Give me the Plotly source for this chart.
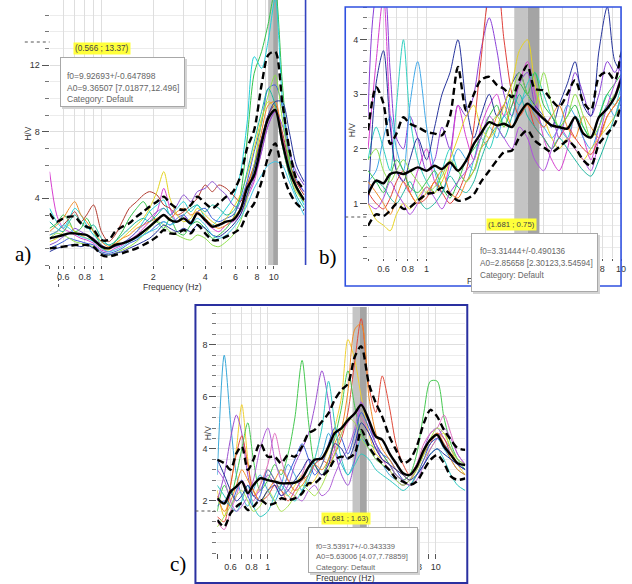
import math
import plotly.graph_objects as go

W, H = 632, 584
def px(x): return x / W
def py(y): return 1 - y / H

FREQ = [0.5, 0.55, 0.6, 0.65, 0.7, 0.76, 0.82, 0.9, 1.0, 1.1, 1.2, 1.32, 1.45, 1.6, 1.75, 1.9,
        2.1, 2.3, 2.5, 2.75, 3.0, 3.3, 3.6, 4.0, 4.4, 4.8, 5.3, 5.8, 6.4, 7.0, 7.7, 8.5, 9.3,
        10.2, 11.2, 12.3, 13.5, 15.0]

# ---------------- panel a ----------------
A_MEAN = [1.6,1.7,1.8,1.9,1.9,1.85,1.8,1.5,1.1,1.0,1.2,1.3,1.45,1.7,2.0,2.3,2.7,3.0,2.7,2.6,
          2.8,2.5,3.1,2.7,2.3,2.4,2.6,2.7,3.3,4.6,5.4,7.3,8.8,9.3,7.4,5.7,4.7,3.9]
A_UP = [3.1,2.6,2.8,2.9,2.9,2.5,2.3,2.1,1.5,1.5,2.0,2.3,2.5,2.9,3.2,3.5,3.8,4.1,3.7,3.4,
        3.3,3.6,4.1,3.7,3.4,3.7,4.1,4.4,5.3,7.0,8.1,10.8,12.6,12.8,9.8,7.0,5.2,4.5]
A_LO = [1.0,1.05,1.1,1.15,1.2,1.2,1.2,1.1,0.6,0.5,0.6,0.7,0.85,1.0,1.2,1.4,1.7,2.1,1.9,1.9,
        2.1,1.9,2.4,1.9,1.5,1.5,1.7,1.9,2.2,3.1,3.7,5.0,6.5,7.3,5.6,4.4,3.7,3.3]
A_CURVES = [
    [5.6,3.0,2.2,2.0,1.8,1.6,1.5,1.3,0.9,0.8,1.0,1.2,1.5,1.8,2.2,2.6,3.2,4.6,3.4,2.6,3.0,2.4,3.2,2.6,2.2,2.0,2.4,2.6,3.0,4.0,5.0,6.8,8.4,9.2,7.8,6.0,5.0,4.4],
    [2.2,2.5,3.0,2.6,2.0,2.2,2.8,2.0,1.2,1.0,1.4,2.0,2.8,3.4,3.8,3.2,2.6,2.2,2.8,2.0,1.8,2.4,2.6,2.2,1.6,1.8,2.2,2.8,4.2,7.5,11.5,12.8,14.5,16.5,11.0,6.5,4.8,4.0],
    [3.4,2.6,2.2,2.8,3.4,3.0,2.4,1.8,1.4,1.2,1.1,1.3,1.6,2.0,2.6,3.2,3.6,3.9,3.0,3.4,3.8,3.2,3.6,2.8,2.4,2.8,3.4,4.0,5.5,8.5,12.5,11.8,13.5,16.0,10.0,6.0,4.6,3.6],
    [1.0,1.2,1.4,1.6,1.5,1.4,1.3,1.2,0.8,0.7,0.8,1.0,1.3,1.5,1.8,2.0,2.4,2.6,2.4,2.8,3.0,2.6,3.2,3.4,2.8,2.6,2.8,3.0,3.8,5.0,6.8,8.5,10.6,10.8,9.5,7.0,5.2,4.4],
    [1.8,2.0,2.4,2.8,3.2,2.6,3.0,3.6,2.0,1.4,1.8,2.6,3.4,3.8,4.2,4.4,4.2,3.6,3.4,3.0,3.2,3.6,4.0,4.8,4.4,4.8,4.6,4.2,3.8,4.8,6.0,7.6,9.0,9.6,8.0,6.2,5.0,4.2],
    [1.4,1.6,2.0,2.4,2.0,1.8,1.6,1.5,1.0,0.9,1.2,1.6,2.0,2.4,2.8,3.4,4.4,5.6,4.0,3.0,2.6,2.8,3.4,3.0,2.6,2.4,2.8,3.4,4.2,5.4,7.0,8.8,9.8,9.4,7.2,5.4,4.4,3.8],
    [2.0,2.4,2.8,3.4,3.8,3.0,2.6,2.0,1.4,1.1,1.3,1.6,1.8,2.2,2.4,2.6,2.8,3.0,2.8,3.2,3.4,3.0,3.2,2.8,2.4,2.2,2.4,2.8,3.4,4.6,6.0,8.0,9.6,9.8,7.6,5.6,4.6,4.0],
    [1.2,1.4,1.7,1.9,2.2,2.0,1.8,1.6,1.2,1.0,1.1,1.3,1.6,2.0,2.4,2.8,3.2,3.4,3.0,3.6,4.2,3.8,4.4,4.6,5.0,4.6,4.2,3.6,3.4,4.2,5.2,6.8,8.4,9.2,8.4,6.8,5.6,4.8],
    [1.6,1.9,1.8,1.6,1.4,1.3,1.2,1.1,0.7,0.6,0.7,0.9,1.1,1.4,1.8,2.2,2.6,2.4,2.0,1.8,1.6,1.5,1.8,1.6,1.2,1.1,1.4,1.8,2.6,4.0,6.0,8.6,10.2,11.4,8.8,6.2,4.6,3.8],
    [2.6,2.2,2.0,2.6,3.0,2.6,2.2,2.4,1.6,1.2,1.4,1.8,2.2,2.6,2.8,2.6,3.0,3.4,3.0,2.6,3.0,3.4,3.6,3.2,3.6,3.4,3.0,3.2,4.0,5.6,7.4,9.2,10.6,9.6,7.2,5.4,4.2,3.4],
    [0.8,1.0,1.1,1.2,1.2,1.1,1.2,1.0,0.7,0.6,0.7,0.8,1.0,1.2,1.4,1.6,2.0,2.4,2.2,2.0,2.2,2.0,2.4,2.2,1.8,1.7,2.0,2.4,3.0,4.2,5.8,7.6,9.0,9.8,9.8,8.0,6.0,5.0],
    [1.8,2.0,2.4,2.2,1.9,1.7,1.6,1.4,1.0,0.8,0.9,1.1,1.4,1.6,1.8,2.0,2.2,2.6,2.4,2.6,2.8,2.4,2.8,2.4,1.8,1.6,1.8,2.2,2.8,3.6,4.6,5.4,6.0,6.2,6.0,5.0,4.0,3.0],
]
A_COLORS = ['#d63fd0','#33c24a','#1fd0d8','#3b5fd8','#b03a2e','#e3d420',
            '#f08a24','#8a4fd0','#8ee04a','#20b7a0','#25339c','#40c8e8']

# ---------------- panel b ----------------
B_MEAN = [1.17,1.42,1.37,1.54,1.57,1.54,1.59,1.66,1.6,1.69,1.63,1.75,1.6,1.79,2.09,2.28,2.49,2.43,2.46,2.4,
          2.64,2.83,2.71,2.55,2.43,2.4,2.37,2.58,2.28,2.21,2.58,2.74,2.95,3.32,3.4,3.5,3.6,3.7]
B_UP = [2.34,3.13,2.83,2.09,2.28,2.58,2.46,2.4,2.31,2.28,2.25,2.6,3.5,2.7,3.0,3.26,3.32,3.17,3.1,2.95,
        3.26,3.53,3.1,3.07,2.89,2.77,3.01,3.26,2.86,2.71,3.32,3.41,3.26,3.81,3.9,4.0,4.1,4.2]
B_LO = [0.59,0.8,0.77,0.87,0.99,0.9,0.93,1.05,1.17,1.2,1.29,1.17,1.05,1.08,1.17,1.39,1.6,1.79,1.94,1.97,
        2.21,2.34,2.15,2.03,1.94,2.03,2.15,2.03,1.79,1.69,2.09,2.28,2.46,2.83,2.9,3.0,3.1,3.2]
B_CURVES = [
    [2.6,4.8,5.0,3.4,2.2,2.0,2.6,2.2,1.6,1.8,2.4,2.0,2.8,2.6,3.0,3.8,4.4,3.8,3.0,2.6,3.2,3.4,2.8,2.4,2.6,2.2,2.8,3.4,3.0,2.6,3.0,3.6,3.4,3.8,4.0,4.1,4.2,4.3],
    [2.0,3.6,4.8,2.6,1.6,1.4,1.2,1.6,2.0,1.4,1.2,1.8,2.8,2.2,1.8,2.4,2.8,3.0,2.6,2.8,3.2,3.6,3.0,2.2,1.8,1.6,2.0,2.6,2.2,1.8,2.4,2.8,3.0,3.4,3.5,3.6,3.7,3.8],
    [1.8,2.4,2.0,1.6,2.8,4.0,2.6,1.8,1.4,1.2,1.6,2.0,1.6,1.4,1.8,2.2,2.0,2.4,2.6,3.0,2.8,3.2,3.4,3.0,2.6,2.4,2.2,2.6,2.4,2.2,2.6,3.0,2.8,3.2,3.3,3.4,3.5,3.6],
    [1.4,1.6,2.2,2.6,2.0,1.6,2.8,3.6,2.4,1.6,1.2,1.6,2.0,1.8,1.6,2.0,2.4,2.2,2.6,2.4,2.8,3.0,2.6,2.4,2.2,2.4,2.8,2.6,2.2,2.0,2.4,2.8,2.6,3.0,3.1,3.2,3.3,3.4],
    [1.0,3.2,3.8,2.4,1.6,1.4,1.8,2.2,1.8,2.4,3.0,3.4,4.0,2.8,2.2,2.6,3.0,2.6,2.8,3.2,3.4,3.0,2.8,2.6,2.4,2.8,3.2,3.6,2.8,2.6,3.8,4.6,3.6,3.4,3.5,3.6,3.7,3.8],
    [1.2,1.0,0.9,1.1,1.4,1.6,1.2,1.0,1.1,1.4,1.2,1.0,1.2,1.6,2.4,3.6,4.8,5.0,4.0,3.0,2.6,2.8,2.4,2.2,2.0,2.2,2.4,2.2,2.0,1.9,2.2,2.6,2.8,3.0,3.1,3.2,3.3,3.4],
    [1.0,0.7,0.6,0.5,0.8,1.0,0.9,1.1,1.3,1.2,1.4,1.8,2.2,2.6,2.8,2.4,2.2,2.4,2.8,3.2,3.8,4.0,3.2,2.6,2.2,2.0,2.2,2.0,1.8,2.0,2.2,2.4,2.6,2.8,2.9,3.0,3.1,3.2],
    [1.6,1.4,1.2,1.5,1.8,1.6,1.3,1.2,1.4,1.6,1.3,1.1,1.4,1.8,2.0,2.2,2.6,2.8,2.4,2.8,3.2,3.0,3.4,2.8,2.6,2.4,2.6,2.8,2.4,2.2,2.6,3.0,3.2,3.4,3.5,3.6,3.7,3.8],
    [1.2,1.4,1.3,1.1,1.0,1.2,1.4,1.1,0.9,1.0,1.2,1.5,1.3,1.2,1.4,1.8,2.2,2.4,2.2,2.6,3.0,2.6,2.4,2.2,2.0,2.2,2.0,1.8,1.6,1.5,1.8,2.2,2.6,3.0,3.1,3.2,3.3,3.4],
    [1.4,1.2,1.0,0.8,1.1,1.4,1.2,1.0,1.2,1.4,1.6,1.2,1.1,1.4,1.6,2.0,2.2,2.6,2.8,2.4,2.6,2.8,2.6,2.4,2.6,2.8,2.4,2.2,2.6,2.4,2.2,2.6,2.8,3.0,3.1,3.2,3.3,3.4],
    [1.8,2.0,1.6,1.4,1.6,1.8,1.6,1.4,1.2,1.3,1.5,1.8,1.6,1.4,1.6,2.0,2.4,2.6,2.4,3.0,3.4,3.0,2.8,3.4,2.8,2.4,2.6,3.0,2.6,2.2,2.4,2.8,3.0,3.2,3.3,3.4,3.5,3.6],
    [1.0,0.9,1.1,1.4,1.2,1.0,0.8,1.0,1.3,1.1,0.9,1.2,1.4,1.6,1.8,2.2,2.6,2.4,2.2,2.0,2.4,2.2,1.8,1.6,2.0,2.4,2.2,2.0,1.8,1.6,2.2,2.8,3.2,3.6,3.7,3.8,3.9,4.0],
]
B_COLORS = ['#8a3fd8','#d63fd0','#2fd0c0','#40a8e8','#25339c','#e0403a',
            '#e8d420','#33c24a','#20b7a0','#f08a24','#8ee04a','#b050e0']

# ---------------- panel c ----------------
C_MEAN = [2.1,1.9,2.36,2.55,2.74,2.3,2.6,2.87,2.8,2.74,2.68,2.68,2.7,2.87,3.3,3.58,3.64,4.09,4.6,4.8,
          5.1,5.37,5.69,5.1,4.47,4.35,3.83,3.45,3.06,3.0,3.32,3.96,4.35,4.54,4.09,3.77,3.45,3.38]
C_UP = [3.58,3.45,3.2,3.83,4.09,3.2,3.58,4.22,3.7,3.7,3.45,3.77,3.7,4.09,4.6,4.73,5.05,5.37,5.88,6.27,
        6.5,7.55,7.94,6.5,5.76,5.24,4.47,3.96,3.45,3.58,4.09,4.99,5.5,5.24,4.73,4.35,4.03,3.96]
C_LO = [1.27,1.01,1.53,1.78,1.91,1.65,1.78,2.04,1.85,1.91,2.1,2.04,2.1,2.29,2.68,2.68,2.94,3.19,3.58,3.7,
        3.64,3.83,4.73,4.09,3.7,3.45,3.19,2.87,2.74,2.62,2.74,3.19,3.58,3.77,3.45,2.94,2.81,2.87]
C_CURVES = [
    [3.0,7.6,5.0,3.0,2.2,1.8,2.4,3.0,2.4,2.0,2.6,3.4,3.0,2.4,2.8,3.4,3.8,4.6,4.0,3.4,3.0,3.6,4.4,4.0,3.6,3.4,3.0,2.8,2.6,2.8,3.2,3.8,4.2,4.4,4.0,3.6,3.2,3.0],
    [2.4,1.4,2.6,4.0,5.7,3.6,2.2,2.6,3.2,2.8,2.4,2.2,2.6,3.0,2.6,2.8,3.4,4.0,4.8,6.0,8.2,7.4,6.0,4.6,3.8,3.6,3.4,3.0,2.8,2.6,3.0,3.6,4.0,4.4,4.6,4.0,3.4,3.0],
    [2.0,3.0,4.4,5.3,4.6,3.0,2.2,2.4,3.0,2.6,2.2,2.6,3.4,4.0,4.6,5.6,7.0,5.8,4.0,3.0,2.6,3.6,5.8,5.0,4.2,3.8,3.4,3.0,2.8,3.0,3.4,4.0,4.6,4.8,4.4,4.0,3.6,3.4],
    [1.4,1.2,2.6,3.8,4.5,3.4,2.4,2.0,2.2,2.6,2.4,2.0,2.4,2.8,3.0,3.4,3.6,3.4,3.8,4.4,5.4,7.4,9.0,6.4,5.4,6.8,5.6,4.2,3.4,3.0,3.4,3.8,4.2,4.6,4.4,3.8,3.4,3.2],
    [1.6,2.6,2.2,3.0,4.0,5.0,3.6,2.4,2.8,3.4,3.0,3.8,5.2,7.4,5.0,3.4,3.0,3.6,4.4,5.6,7.0,5.6,4.6,4.2,4.0,3.8,3.4,3.0,2.8,3.0,3.8,5.4,6.6,6.6,5.2,4.2,3.6,3.2],
    [1.2,0.9,1.6,2.2,2.8,2.4,2.0,2.6,3.4,4.6,3.6,2.8,2.4,3.0,3.6,3.2,3.0,3.4,4.0,4.6,5.0,5.4,5.2,4.6,4.0,3.6,3.2,2.8,2.6,2.8,3.4,4.2,4.6,4.8,5.3,4.6,3.8,3.4],
    [1.8,2.0,1.8,2.4,2.8,2.2,1.8,2.2,3.2,2.8,2.4,3.0,3.6,4.2,3.6,3.0,3.4,4.2,4.8,4.4,3.8,4.6,5.4,4.8,4.2,3.8,3.6,3.2,2.8,2.6,3.0,3.6,4.2,4.4,4.2,3.8,3.4,3.2],
    [2.2,1.6,2.0,2.6,3.2,2.8,2.4,2.0,2.4,2.8,3.2,2.8,2.4,2.6,3.0,3.4,3.2,3.6,4.2,4.8,6.2,8.6,8.8,6.0,4.6,4.0,3.6,3.2,3.0,2.8,3.2,3.8,4.4,4.6,4.2,3.6,3.2,3.0],
    [2.6,2.2,1.8,1.6,2.0,2.6,1.8,1.4,1.6,2.2,2.6,2.2,2.0,2.4,3.0,3.6,4.8,6.6,5.0,3.6,3.0,3.4,3.8,3.6,3.2,3.0,2.8,2.6,2.4,2.6,3.0,3.4,3.8,4.0,3.6,3.0,2.6,2.4],
    [3.2,2.8,2.0,1.6,1.8,2.2,2.8,4.0,4.8,3.6,2.8,2.4,2.2,2.0,2.4,2.6,2.2,2.4,3.0,3.6,4.0,4.8,5.8,5.0,4.2,3.6,3.4,3.0,2.8,2.6,2.8,3.4,4.0,4.4,4.8,4.4,3.8,3.4],
    [1.0,1.4,1.8,2.2,2.4,2.0,1.6,1.8,2.4,2.0,1.6,1.8,2.2,2.6,2.4,2.2,2.6,3.2,3.8,4.6,5.2,5.0,4.4,4.0,3.6,3.4,3.2,2.8,2.6,2.8,3.2,3.8,4.4,4.8,4.6,4.0,3.6,3.4],
    [3.6,3.0,2.4,2.0,2.2,2.6,2.2,2.0,2.4,2.6,2.2,2.4,2.8,3.2,3.6,3.4,3.0,3.4,4.2,4.0,3.6,4.2,5.0,4.6,4.0,3.6,3.4,3.2,3.0,2.8,3.0,3.4,3.8,4.0,3.8,3.6,3.4,3.2],
]
C_COLORS = ['#3aa8d8','#f0d030','#9a4fd0','#e04a3a','#45c850','#e070c0',
            '#3b5fd8','#f08a24','#30c8c0','#b060d8','#a8e050','#25339c']

# peak info (f0, sigma) and cursor labels
A_F0, A_SIG = 9.92693, 0.647898
B_F0, B_SIG = 3.31444, 0.490136
C_F0, C_SIG = 3.53917, 0.343339
A_TIP = ["f0=9.92693+/-0.647898", "A0=9.36507 [7.01877,12.496]", "Category: Default"]
B_TIP = ["f0=3.31444+/-0.490136", "A0=2.85658 [2.30123,3.54594]", "Category: Default"]
C_TIP = ["f0=3.53917+/-0.343339", "A0=5.63006 [4.07,7.78859]", "Category: Default"]
A_CUR = "(0.566 ; 13.37)"
B_CUR = "(1.681 ; 0.75)"
C_CUR = "(1.681 ; 1.63)"

A_YMAX, B_YMAX, C_YMAX = 15.9, 4.6, 9.45

FONT = "Liberation Sans"
GRID = "#dedede"

fig = go.Figure()

panels = [
    dict(xa='x', ya='y', curves=A_CURVES, colors=A_COLORS, mean=A_MEAN, up=A_UP, lo=A_LO,
         f0=A_F0, sig=A_SIG, ymax=A_YMAX),
    dict(xa='x2', ya='y2', curves=B_CURVES, colors=B_COLORS, mean=B_MEAN, up=B_UP, lo=B_LO,
         f0=B_F0, sig=B_SIG, ymax=B_YMAX),
    dict(xa='x3', ya='y3', curves=C_CURVES, colors=C_COLORS, mean=C_MEAN, up=C_UP, lo=C_LO,
         f0=C_F0, sig=C_SIG, ymax=C_YMAX),
]
for p in panels:
    # f0 +/- sigma band (light left half, darker right half)
    for a, b, col in ((p['f0'] - p['sig'], p['f0'], '#c4c4c4'), (p['f0'], p['f0'] + p['sig'], '#a4a4a4')):
        fig.add_trace(go.Scatter(x=[a, a, b, b], y=[0, p['ymax'], p['ymax'], 0], xaxis=p['xa'], yaxis=p['ya'],
                                 mode='lines', fill='toself', fillcolor=col, line=dict(width=0),
                                 hoverinfo='skip'))
    for vals, col in zip(p['curves'], p['colors']):
        fig.add_trace(go.Scatter(x=FREQ, y=vals, xaxis=p['xa'], yaxis=p['ya'], mode='lines',
                                 line=dict(color=col, width=1, shape='spline', smoothing=0.8),
                                 hoverinfo='skip'))
    for vals, dash in ((p['up'], '7px,4px'), (p['lo'], '7px,4px'), (p['mean'], 'solid')):
        fig.add_trace(go.Scatter(x=FREQ, y=vals, xaxis=p['xa'], yaxis=p['ya'], mode='lines',
                                 line=dict(color='black', width=2.4, dash=dash, shape='spline', smoothing=0.8),
                                 hoverinfo='skip'))

def xaxis(dom, rng, labeled, tickvals, ticklen, anchor):
    return dict(type='log', domain=dom, range=[math.log10(rng[0]), math.log10(rng[1])], anchor=anchor,
                tickmode='array', tickvals=tickvals,
                ticktext=[(str(v) if v in labeled else '') for v in tickvals],
                ticks='outside', ticklen=ticklen, tickcolor='#555', showgrid=True, gridcolor=GRID,
                gridwidth=1, zeroline=False, showline=False,
                tickfont=dict(family=FONT, size=9, color='#333'))

def yaxis(dom, rng, tickvals, minor, anchor):
    return dict(domain=dom, range=rng, anchor=anchor, tickmode='array', tickvals=tickvals,
                ticks='outside', ticklen=7, tickcolor='#555', showgrid=True, gridcolor=GRID,
                zeroline=False, showline=False,
                minor=dict(dtick=minor, tick0=0, ticks='outside', ticklen=4, tickcolor='#777',
                           showgrid=True, gridcolor='#ececec'),
                tickfont=dict(family=FONT, size=9, color='#333'))

XT = [0.5, 0.6, 0.7, 0.8, 0.9, 1, 2, 3, 4, 5, 6, 7, 8, 9, 10]
fig.update_layout(
    width=W, height=H, margin=dict(l=0, r=0, t=0, b=0),
    paper_bgcolor='white', plot_bgcolor='white', showlegend=False,
    xaxis=xaxis([px(50), px(307)], (0.5, 15.1), [0.6, 0.8, 1, 2, 4, 6, 8, 10], XT, 3, 'y'),
    yaxis=yaxis([py(265), py(0)], [0, A_YMAX], [4, 8, 12], 1, 'x'),
    xaxis2=xaxis([px(371), px(626)], (0.5, 10.0), [0.6, 0.8, 1, 8, 10], XT, 2, 'y2'),
    yaxis2=yaxis([py(258), py(7)], [0, B_YMAX], [1, 2, 3, 4], 0.2, 'x2'),
    xaxis3=xaxis([px(219), px(469)], (0.5, 15.0), [0.6, 0.8, 1, 8, 10], XT, 5, 'y3'),
    yaxis3=yaxis([py(553), py(307)], [0, C_YMAX], [2, 4, 6, 8], 0.4, 'x3'),
)

shapes = []
# frames
shapes.append(dict(type='line', xref='paper', yref='paper', x0=px(308), x1=px(308), y0=py(0), y1=py(265),
                   line=dict(color='#3344c0', width=1.6)))
shapes.append(dict(type='rect', xref='paper', yref='paper', x0=px(348), x1=px(626), y0=py(286), y1=py(7),
                   line=dict(color='#2f50e0', width=1.6)))
shapes.append(dict(type='rect', xref='paper', yref='paper', x0=px(197), x1=px(471), y0=py(583), y1=py(305),
                   line=dict(color='#2a30a0', width=2)))
# cursor dotted lines
for x0, x1, y0, y1 in ((25, 50, 42, 42), (59, 59, 266, 290), (348, 371, 217, 217), (197, 217, 511, 511)):
    shapes.append(dict(type='line', xref='paper', yref='paper', x0=px(x0), x1=px(x1), y0=py(y0), y1=py(y1),
                       line=dict(color='#555', width=1, dash='dot')))
fig.update_layout(shapes=shapes)

ann = []
def text(x, y, s, size=9, color='#333', angle=0, family=FONT, xanchor='center'):
    ann.append(dict(xref='paper', yref='paper', x=px(x), y=py(y), text=s, showarrow=False,
                    font=dict(family=family, size=size, color=color), textangle=angle,
                    xanchor=xanchor, yanchor='middle'))

# axis titles
text(174, 287, "Frequency (Hz)", 8.5)
text(500, 281, "Frequency (Hz)", 8.5)
text(348, 578, "Frequency (Hz)", 8.5)
text(28, 133, "H/V", 8.5, angle=-90)
text(355, 130, "H/V", 8.5, angle=-90)
text(210, 433, "H/V", 8.5, angle=-90)

# tooltip boxes
def tip(x0, y0, x1, y1, lines, size, tx, ty, dy):
    ann.append(dict(xref='paper', yref='paper', x=px(x0 + 2), y=py(y0 + 2), text=' ', showarrow=False,
                    xanchor='left', yanchor='top', width=x1 - x0, height=y1 - y0, bgcolor='#d4d4d4',
                    borderpad=0, borderwidth=0))
    ann.append(dict(xref='paper', yref='paper', x=px(x0), y=py(y0), text=' ', showarrow=False,
                    xanchor='left', yanchor='top', width=x1 - x0 - 2, height=y1 - y0 - 2, bgcolor='white',
                    bordercolor='#a8a8a8', borderwidth=1, borderpad=0))
    for i, s in enumerate(lines):
        text(tx, ty + i * dy, s, size, color='#666', xanchor='left')

tip(60, 57, 185, 107, A_TIP, 8.5, 66, 76, 11.7)
tip(475, 233, 602, 292, B_TIP, 8.2, 482, 252, 11.6)
tip(310, 527, 420, 573, C_TIP, 7.6, 316, 546, 10.6)

# cursor labels
for x, y, s, size in ((103, 48, A_CUR, 8.2), (516, 224, B_CUR, 7.8), (349, 518, C_CUR, 7.6)):
    ann.append(dict(xref='paper', yref='paper', x=px(x), y=py(y), text=s, showarrow=False,
                    font=dict(family=FONT, size=size, color='#444'), bgcolor='#ffff3a',
                    borderpad=1, xanchor='center', yanchor='middle'))

# panel letters
text(23, 254, "a)", 21, color='black', family="Liberation Serif")
text(331, 257, "b)", 21, color='black', family="Liberation Serif")
text(179, 564, "c)", 21, color='black', family="Liberation Serif")

fig.update_layout(annotations=ann)
fig.write_html("out.html", config={'displayModeBar': False},
               post_script="document.body.style.margin='0';document.body.style.padding='0';")
